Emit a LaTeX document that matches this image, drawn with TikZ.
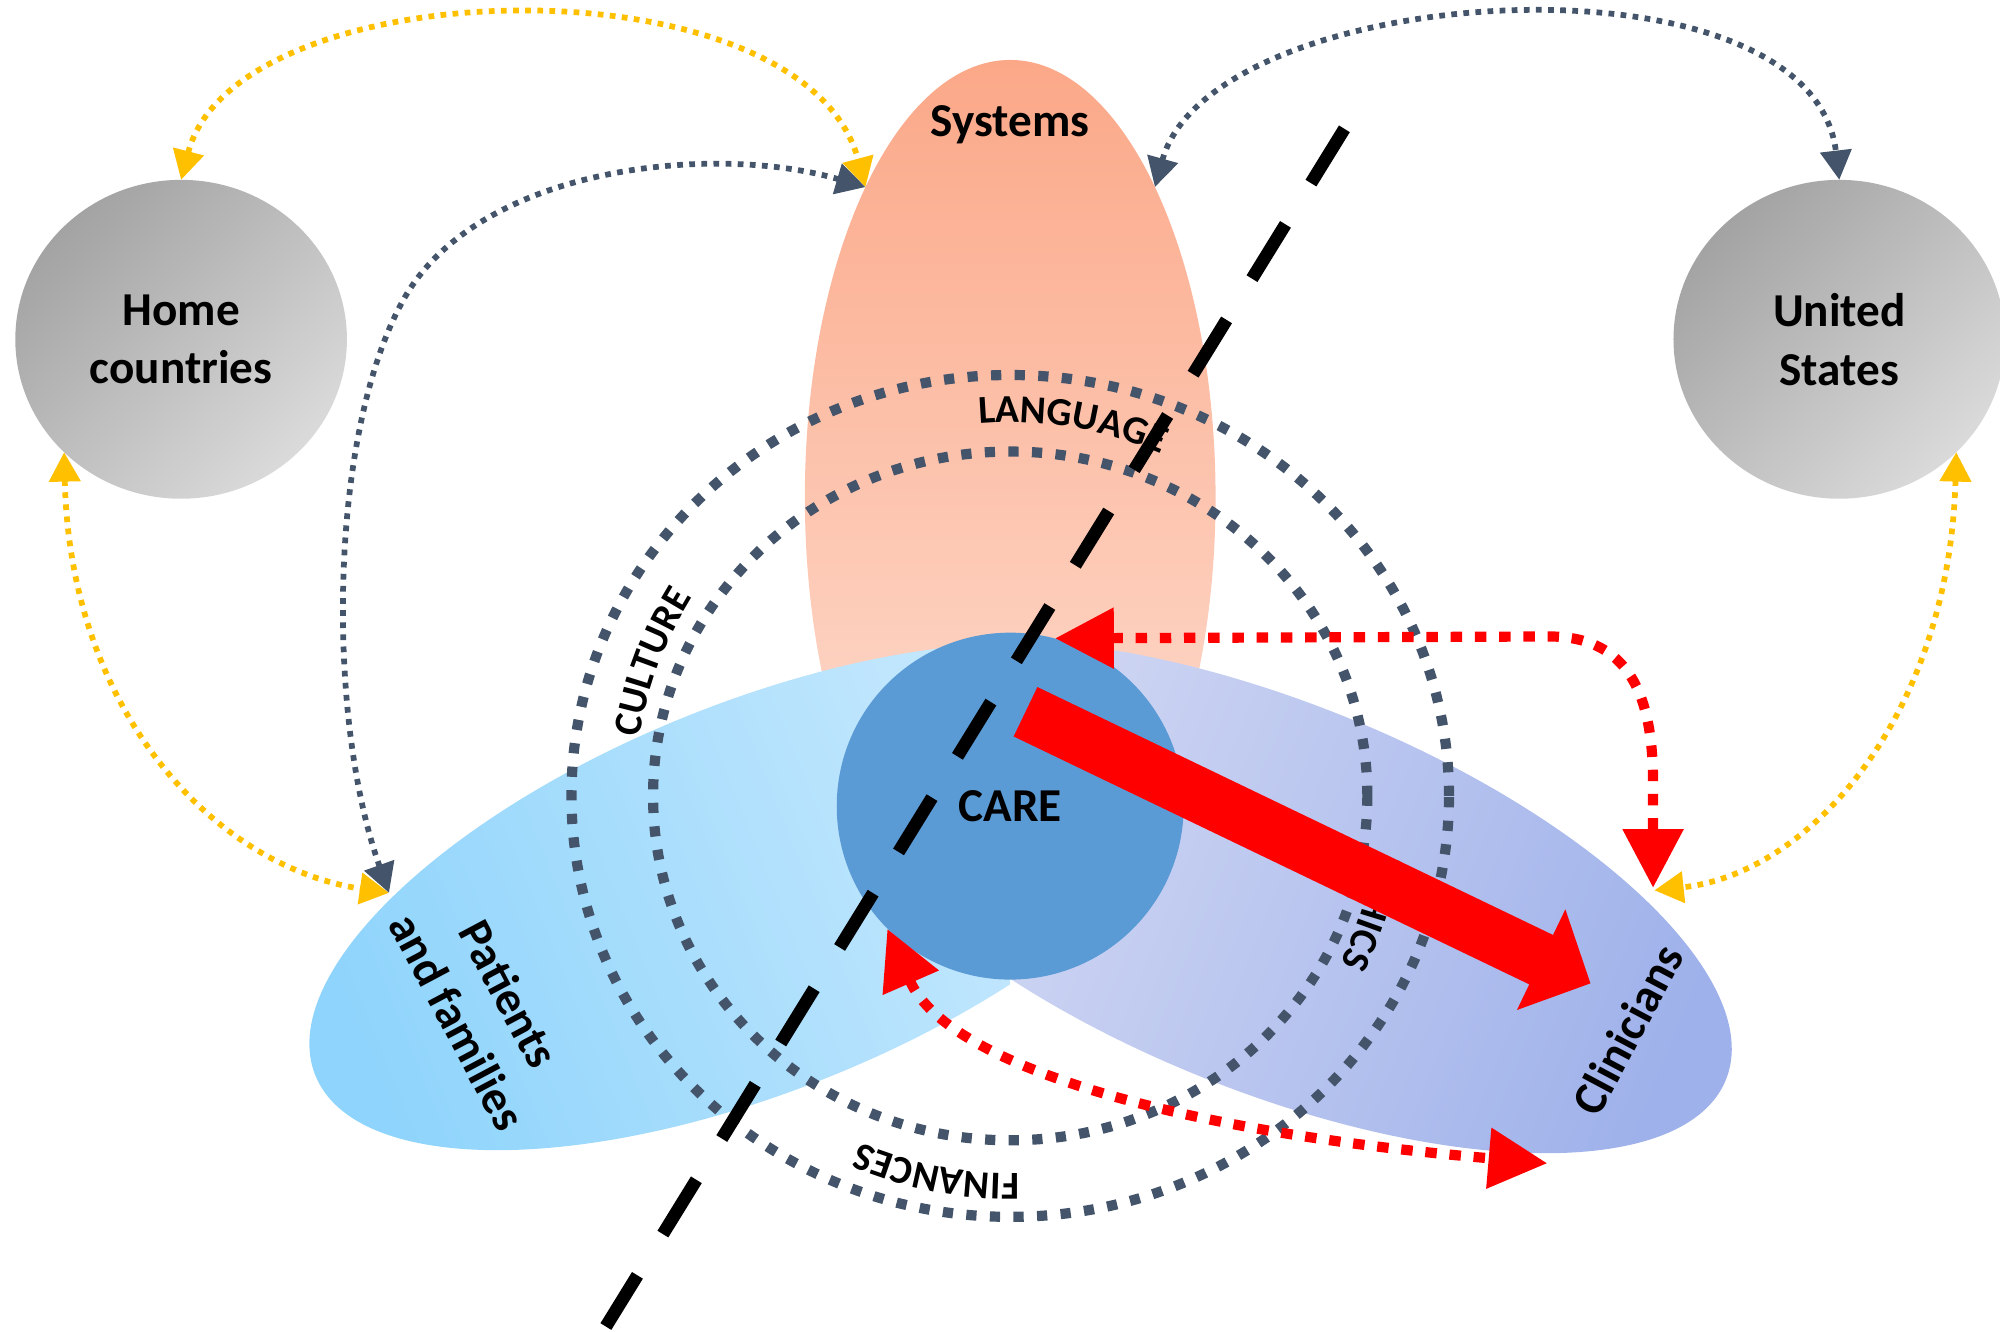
\documentclass[tikz,border=0pt]{standalone}
\usepackage{fontspec}
\setmainfont{Carlito}
\usetikzlibrary{arrows.meta,shapes.geometric,decorations.text}
\definecolor{slate}{RGB}{68,84,106}
\definecolor{gold}{RGB}{255,192,0}
\definecolor{careblue}{RGB}{91,155,213}
\definecolor{grayD}{RGB}{163,163,163}
\definecolor{grayL}{RGB}{218,218,218}
\definecolor{sysTop}{RGB}{251,168,136}
\definecolor{sysBot}{RGB}{254,226,215}
\definecolor{patL}{RGB}{143,212,252}
\definecolor{patR}{RGB}{208,236,253}
\definecolor{clinL}{RGB}{218,222,245}
\definecolor{clinR}{RGB}{158,177,234}
\newcommand{\ringfont}{\bfseries\fontsize{31}{31}\selectfont}
\begin{document}
\begin{tikzpicture}[x=1pt,y=1pt,
  lbl/.style={font=\bfseries\fontsize{37}{46}\selectfont, align=center, inner sep=0pt},
  blob/.style={ellipse, inner sep=0pt, outer sep=0pt},
  ringline/.style={draw=slate, line width=8pt, dash pattern=on 8pt off 10.5pt},
  goldline/.style={draw=gold, line width=4.5pt, dash pattern=on 4.5pt off 5pt,
     {Triangle[length=23pt,width=24pt]}-{Triangle[length=23pt,width=24pt]}},
  slateline/.style={draw=slate, line width=4.5pt, dash pattern=on 4.5pt off 5pt,
     {Triangle[length=23pt,width=24pt]}-{Triangle[length=23pt,width=24pt]}},
  reddot/.style={draw=red, line width=8pt, dash pattern=on 9pt off 10pt,
     {Triangle[length=46pt,width=46pt]}-{Triangle[length=46pt,width=46pt]}},
  bigarrow/.style={draw=red, line width=43pt, -{Triangle[length=43pt,width=85pt]}},
  cutline/.style={draw=black, line width=10pt, dash pattern=on 50pt off 38pt}
]
\useasboundingbox (0,0) rectangle (1568,-1044);

% ---- big shapes ----
\node[blob, minimum width=322pt, minimum height=686pt, top color=sysTop, bottom color=sysBot] (systems) at (792,-390) {};
\node[lbl] (systemsLabel) at (792,-98) {Systems};

\begin{scope}
  \clip (0,0) rectangle (792,-1044);
  \node[blob, rotate=22, minimum width=748pt, minimum height=304pt, left color=patL, right color=patR, shading angle=112] (patients) at (594,-703) {};
\end{scope}
\begin{scope}
  \clip (792,0) rectangle (1568,-1044);
  \node[blob, rotate=-22, minimum width=766pt, minimum height=304pt, left color=clinL, right color=clinR, shading angle=68] (clinicians) at (998,-703) {};
\end{scope}

\node[circle, minimum size=272pt, inner sep=0pt, fill=careblue, lbl] (care) at (792,-632) {CARE};

\node[blob, minimum width=260pt, minimum height=250pt, top color=grayD, bottom color=grayL, shading angle=45, lbl] (home) at (142,-266) {Home\\countries};
\node[blob, minimum width=260pt, minimum height=250pt, top color=grayD, bottom color=grayL, shading angle=45, lbl] (us) at (1442,-266) {United\\States};

\node[lbl, rotate=-62] (patLabel) at (379,-790) {Patients\\and families};
\node[lbl, rotate=62] (clinLabel) at (1276,-807) {Clinicians};

% ---- rings ----
\draw[ringline] (792,-624) ellipse [x radius=344, y radius=330];
\draw[ringline] (792,-624) ellipse [x radius=280, y radius=270];

\path[decorate, decoration={text along path, text align=center, text={|\ringfont|LANGUAGE}}]
  (792,-624) ++(100:293) arc[start angle=100, end angle=61, radius=293];
\path[decorate, decoration={text along path, text align=center, text={|\ringfont|CULTURE}}]
  (792,-624) ++(175:294) arc[start angle=175, end angle=144, radius=294];
\path[decorate, decoration={text along path, text align=center, text={|\ringfont|FINANCES}}]
  (792,-624) ++(-82:296) arc[start angle=-82, end angle=-120, radius=296];
\path[decorate, decoration={text along path, text align=center, text={|\ringfont|ETHICS}}]
  (792,-624) ++(-4:290) arc[start angle=-4, end angle=-32, radius=290];

% ---- coordinates ----
\coordinate (bigTail) at (804,-558);
\coordinate (bigTip) at (1247,-771);
\coordinate (clinTop) at (1296,-696);
\coordinate (clinBot) at (1213,-912);
\coordinate (clinSide) at (1297,-698);
\coordinate (patTip) at (305,-700);
\coordinate (dashTop) at (1054,-101);
\coordinate (dashBot) at (475,-1040);

% ---- red arrows ----
\draw[bigarrow] (bigTail) -- (bigTip);
\draw[reddot] (care.75) -- (1215,-499) .. controls (1283,-499) and (1296,-555) .. (1296,-615) -- (clinTop);
\draw[reddot] (care.225) .. controls (740,-830) and (900,-885) .. (clinBot);

% ---- dashed divider ----
\draw[cutline] (dashTop) -- (dashBot);

% ---- thin connectors ----
\draw[goldline] (home.north) .. controls (185,25) and (630,35) .. (systems.115);
\draw[goldline] (home.224) .. controls (55,-560) and (170,-680) .. (patTip);
\draw[goldline] (us.-44) .. controls (1528,-560) and (1420,-685) .. (clinSide);
\draw[slateline] (patTip) .. controls (255,-560) and (258,-335) .. (318,-232) .. controls (378,-130) and (560,-112) .. (systems.115);
\draw[slateline] (systems.65) .. controls (950,15) and (1420,45) .. (us.north);
\end{tikzpicture}
\end{document}
